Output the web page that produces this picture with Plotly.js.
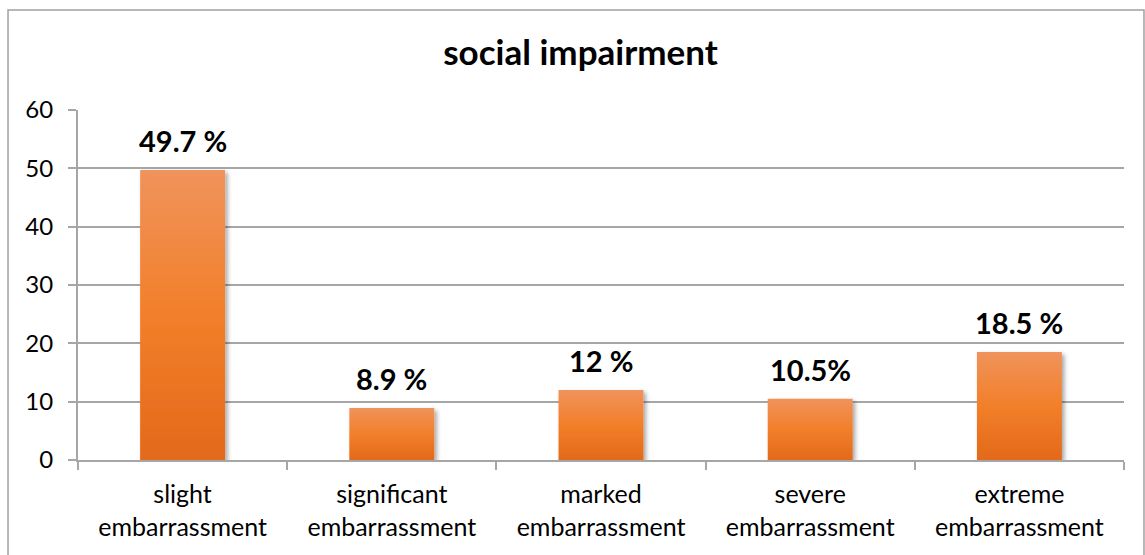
<!DOCTYPE html>
<html>
<head>
<meta charset="utf-8">
<script src="https://cdn.plot.ly/plotly-3.0.1.min.js"></script>
<style>
  html, body { margin: 0; padding: 0; background: #ffffff; }
  #chart { width: 1145px; height: 555px; }
</style>
</head>
<body>
<div id="chart"></div>
<script>
// ---- data ----
const categories = [
  "slight<br>embarrassment",
  "significant<br>embarrassment",
  "marked<br>embarrassment",
  "severe<br>embarrassment",
  "extreme<br>embarrassment"
];
const values = [49.7, 8.9, 12, 10.5, 18.5];
const valueLabels = ["49.7 %", "8.9 %", "12 %", "10.5%", "18.5 %"];
const yTickValues = [0, 10, 20, 30, 40, 50, 60];
const chartTitle = "social impairment";

const FONT = "Lato, 'Open Sans', sans-serif";

const trace = {
  type: "bar",
  x: categories,
  y: values,
  marker: { color: "#EF7E2E", line: { width: 0 } },
  hoverinfo: "skip"
};

const annotations = categories.map((c, i) => ({
  x: c,
  y: values[i],
  xref: "x",
  yref: "y",
  text: "<b>" + valueLabels[i] + "</b>",
  showarrow: false,
  yanchor: "bottom",
  yshift: 10,
  font: { family: FONT, size: 29, color: "#000000" }
}));

const layout = {
  width: 1145,
  height: 555,
  margin: { l: 78, r: 21, t: 110, b: 95 },
  paper_bgcolor: "#ffffff",
  plot_bgcolor: "#ffffff",
  showlegend: false,
  bargap: 0.594,
  title: {
    text: "<b>" + chartTitle + "</b>",
    font: { family: FONT, size: 35, color: "#000000" },
    x: 0.507,
    xanchor: "center",
    y: 0.905,
    yanchor: "middle"
  },
  xaxis: {
    type: "category",
    showline: true,
    linecolor: "#A6A6A6",
    linewidth: 2,
    ticks: "outside",
    tickson: "boundaries",
    ticklen: 8,
    tickcolor: "#A6A6A6",
    tickwidth: 2,
    showgrid: false,
    ticklabelstandoff: 11,
    tickfont: { family: FONT, size: 25, color: "#000000" },
    fixedrange: true
  },
  yaxis: {
    range: [0, 60],
    tickvals: yTickValues,
    ticktext: yTickValues.map(String),
    showline: true,
    linecolor: "#A6A6A6",
    linewidth: 2,
    ticks: "outside",
    ticklen: 8,
    tickcolor: "#A6A6A6",
    tickwidth: 2,
    showgrid: true,
    gridcolor: "#A6A6A6",
    gridwidth: 2,
    zeroline: false,
    ticklabelstandoff: 10,
    tickfont: { family: FONT, size: 24, color: "#000000" },
    fixedrange: true
  },
  shapes: [{
    type: "rect",
    xref: "paper", yref: "paper",
    x0: -0.0669, x1: 1.0191,
    y0: -0.30, y1: 1.2857,
    line: { color: "#A0A0A0", width: 1.5 },
    fillcolor: "rgba(0,0,0,0)",
    layer: "below"
  }],
  annotations: annotations
};

Plotly.newPlot("chart", [trace], layout, { displayModeBar: false, staticPlot: true }).then(gd => {
  const svg = gd.querySelector(".main-svg");
  const ns = "http://www.w3.org/2000/svg";
  let defs = svg.querySelector("defs");
  if (!defs) { defs = document.createElementNS(ns, "defs"); svg.insertBefore(defs, svg.firstChild); }
  const grad = document.createElementNS(ns, "linearGradient");
  grad.setAttribute("id", "barGrad");
  grad.setAttribute("x1", "0"); grad.setAttribute("y1", "0");
  grad.setAttribute("x2", "0"); grad.setAttribute("y2", "1");
  [["0%", "#F0935C"], ["50%", "#F27F2A"], ["100%", "#E3691A"]].forEach(([o, c]) => {
    const s = document.createElementNS(ns, "stop");
    s.setAttribute("offset", o); s.setAttribute("stop-color", c);
    grad.appendChild(s);
  });
  defs.appendChild(grad);
  const filt = document.createElementNS(ns, "filter");
  filt.setAttribute("id", "barShadow");
  filt.setAttribute("x", "-20%"); filt.setAttribute("y", "-20%");
  filt.setAttribute("width", "140%"); filt.setAttribute("height", "140%");
  const ds = document.createElementNS(ns, "feDropShadow");
  ds.setAttribute("dx", "2.5"); ds.setAttribute("dy", "2.5");
  ds.setAttribute("stdDeviation", "2");
  ds.setAttribute("flood-color", "#000000");
  ds.setAttribute("flood-opacity", "0.35");
  filt.appendChild(ds);
  defs.appendChild(filt);
  gd.querySelectorAll(".bars .point path").forEach(p => {
    p.style.fill = "url(#barGrad)";
    p.setAttribute("filter", "url(#barShadow)");
  });
});
</script>
</body>
</html>
